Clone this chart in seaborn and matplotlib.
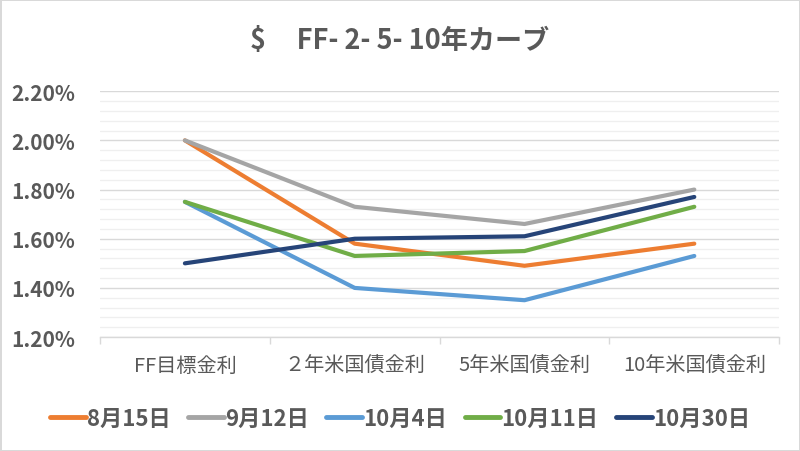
import pandas as pd
import matplotlib
matplotlib.use("Agg")
import matplotlib.pyplot as plt
import seaborn as sns
from matplotlib.ticker import MultipleLocator, FuncFormatter, FixedLocator

categories = ["FF目標金利", "２年米国債金利", "5年米国債金利", "10年米国債金利"]
series_names = ["8月15日", "9月12日", "10月4日", "10月11日", "10月30日"]
aug15 = [2.00, 1.58, 1.49, 1.58]
sep12 = [2.00, 1.73, 1.66, 1.80]
oct04 = [1.75, 1.40, 1.35, 1.53]
oct11 = [1.75, 1.53, 1.55, 1.73]
oct30 = [1.50, 1.60, 1.61, 1.77]
colors = ["#ED7D31", "#A5A5A5", "#5B9BD5", "#70AD47", "#264478"]

rows = []
for name, vals in zip(series_names, [aug15, sep12, oct04, oct11, oct30]):
    for i, v in enumerate(vals):
        rows.append({"series": name, "pos": i, "rate": v})
df = pd.DataFrame(rows)

sns.set_theme(style="white")
plt.rcParams["font.family"] = ["Noto Sans CJK JP", "DejaVu Sans"]
text_color = "#595959"

fig = plt.figure(figsize=(8, 4.52), dpi=100)
fig.patch.set_edgecolor("#d9d9d9")
fig.patch.set_linewidth(2)
ax = fig.add_axes([0.125, 0.252, 0.849, 0.544])

sns.lineplot(data=df, x="pos", y="rate", hue="series", hue_order=series_names,
             palette=colors, linewidth=3, ax=ax, legend=True, sort=False)
for line in ax.lines:
    line.set_solid_capstyle("round")

ax.set_ylim(1.2, 2.2)
ax.set_xlim(-0.5, 3.5)
ax.yaxis.set_major_locator(MultipleLocator(0.2))
ax.yaxis.set_minor_locator(MultipleLocator(0.04))
ax.yaxis.set_major_formatter(FuncFormatter(lambda v, p: f"{v:.2f}%"))
ax.grid(which="major", axis="y", color="#d9d9d9", linewidth=1.0)
ax.grid(which="minor", axis="y", color="#efefef", linewidth=0.9)
ax.set_axisbelow(True)

# category labels centred, ticks on category boundaries
ax.xaxis.set_major_locator(FixedLocator(range(len(categories))))
ax.set_xticklabels(categories)
ax.xaxis.set_minor_locator(FixedLocator([-0.5, 0.5, 1.5, 2.5, 3.5]))
ax.tick_params(axis="x", which="major", length=0, pad=13, labelsize=14.5,
               labelcolor=text_color)
ax.tick_params(axis="x", which="minor", length=5, width=1, color="#d9d9d9",
               bottom=True)
ax.tick_params(axis="y", which="both", length=0, pad=18, labelsize=15,
               labelcolor=text_color)
for lab in ax.get_yticklabels():
    lab.set_fontweight("bold")

for side in ["top", "right", "left"]:
    ax.spines[side].set_visible(False)
ax.spines["bottom"].set_color("#d9d9d9")
ax.spines["bottom"].set_linewidth(1.0)
ax.set_xlabel("")
ax.set_ylabel("")

fig.suptitle("$     FF- 2- 5- 10年カーブ", x=0.5, y=0.94, fontsize=19.5,
             fontweight="bold", color=text_color)

handles, labels = ax.get_legend_handles_labels()
ax.get_legend().remove()
leg = fig.legend(handles, labels, loc="center", bbox_to_anchor=(0.5, 0.072),
                 ncol=5, frameon=False, handlelength=1.6, handletextpad=0.05,
                 columnspacing=0.8, prop={"size": 16, "weight": "bold"})
for t in leg.get_texts():
    t.set_color(text_color)
for h in leg.legend_handles:
    h.set_linewidth(3.5)

fig.savefig("out.png", dpi=100)
